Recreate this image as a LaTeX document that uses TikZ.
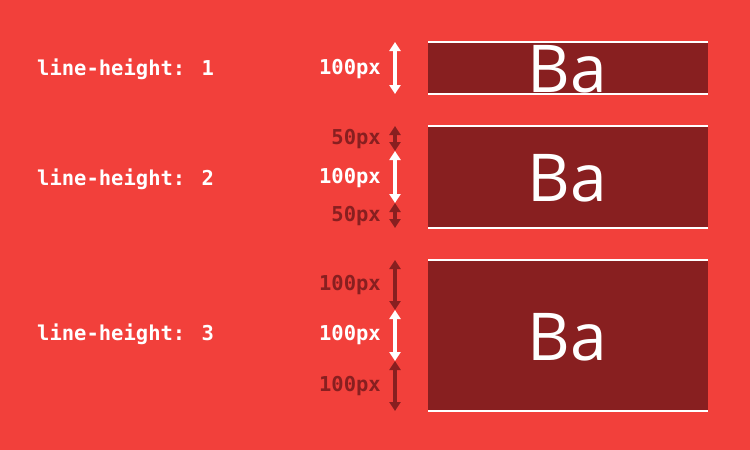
\documentclass[tikz,border=0pt]{standalone}
\usepackage{fontspec}
\usetikzlibrary{arrows.meta}
\newfontfamily\monof{DejaVu Sans Mono}
\newfontfamily\baf{Open Sans}
\definecolor{bg}{HTML}{F2403B}
\definecolor{dk}{HTML}{881F20}
\tikzset{
  lh/.style={font=\monof\bfseries\fontsize{20.5}{24}\selectfont, text=white, anchor=west, inner sep=0pt},
  pxw/.style={font=\monof\bfseries\fontsize{20.5}{24}\selectfont, text=white, anchor=east, inner sep=0pt},
  pxd/.style={pxw, text=dk},
  tip/.tip={Triangle[width=11pt,length=9pt]},
  warr/.style={white, line width=3.4pt, tip-tip},
  darr/.style={warr, dk},
  boxf/.style={fill=dk, draw=none, minimum width=280pt, inner sep=0pt, outer sep=0pt},
  wline/.style={white, line width=2pt},
  ba/.style={font=\baf\fontsize{66}{70}\selectfont, text=white, anchor=base, inner sep=0pt},
}
\begin{document}
\begin{tikzpicture}[x=1pt,y=-1pt]
\fill[bg] (0,0) rectangle (750,450);
\useasboundingbox (0,0) rectangle (750,450);
\coordinate (ax) at (395,0);

% boxes
\node[boxf, minimum height=52pt] (b1) at (568,68) {};
\node[boxf, minimum height=102pt] (b2) at (568,177) {};
\node[boxf, minimum height=151pt] (b3) at (568,335.5) {};
\foreach \b in {b1,b2,b3}{
  \draw[wline] (\b.north west) -- (\b.north east);
  \draw[wline] (\b.south west) -- (\b.south east);
}
\node[ba] (t1) at (567,92) {Ba};
\node[ba] (t2) at (567,201) {Ba};
\node[ba] (t3) at (567,360) {Ba};

% left labels
\node[lh] (l1) at (37,69) {line-height: 1};
\node[lh] (l2) at (37,179) {line-height: 2};
\node[lh] (l3) at (37,334) {line-height: 3};

% arrow coordinates
\coordinate (p1a) at (ax |- b1.north);
\coordinate (p1b) at (ax |- b1.south);
\coordinate (p2a) at (ax |- b2.north);
\coordinate (p2b) at (395,151);
\coordinate (p2c) at (395,203);
\coordinate (p2d) at (ax |- b2.south);
\coordinate (p3a) at (ax |- b3.north);
\coordinate (p3b) at (395,310);
\coordinate (p3c) at (395,361);
\coordinate (p3d) at (ax |- b3.south);

\draw[warr] (p1a) -- (p1b);
\draw[darr] (p2a) -- (p2b);
\draw[warr] (p2b) -- (p2c);
\draw[darr] (p2c) -- (p2d);
\draw[darr] (p3a) -- (p3b);
\draw[warr] (p3b) -- (p3c);
\draw[darr] (p3c) -- (p3d);

% px labels
\node[pxw] (m1) at (381,69) {100px};
\node[pxd] (m2a) at (381,139) {50px};
\node[pxw] (m2b) at (381,178) {100px};
\node[pxd] (m2c) at (381,216) {50px};
\node[pxd] (m3a) at (381,285) {100px};
\node[pxw] (m3b) at (381,335) {100px};
\node[pxd] (m3c) at (381,386) {100px};
\end{tikzpicture}
\end{document}
